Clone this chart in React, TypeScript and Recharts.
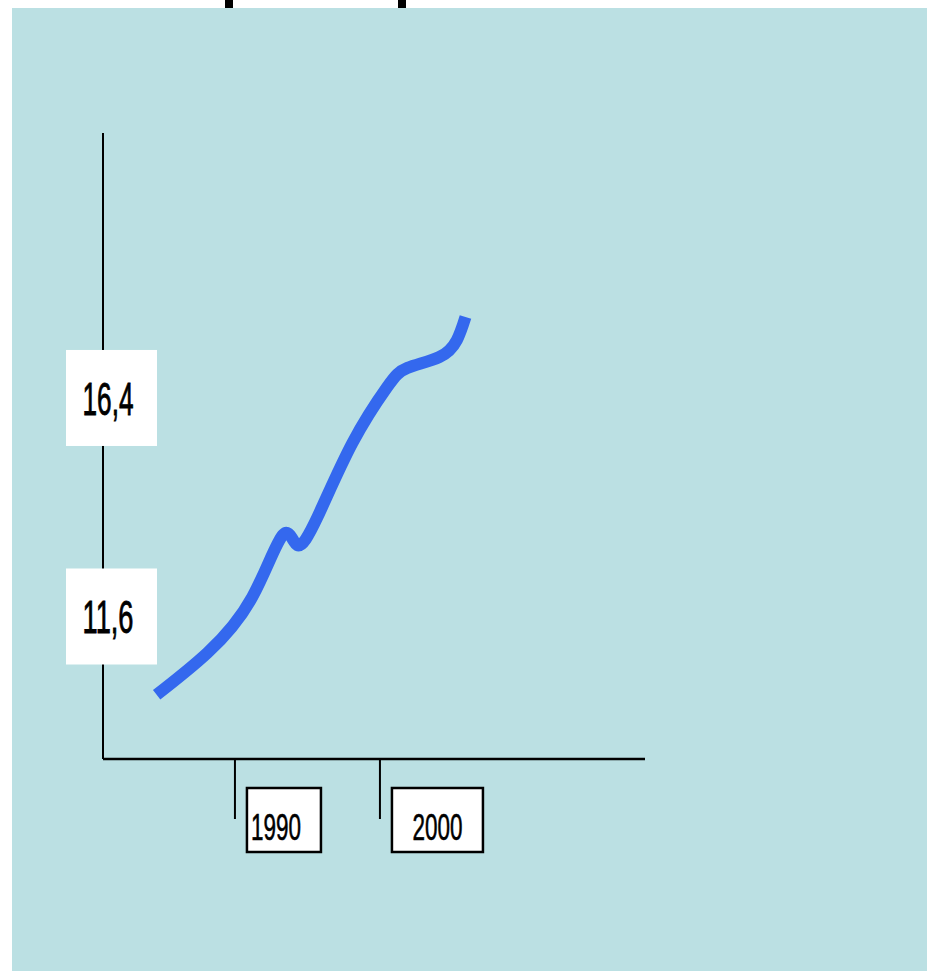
import React from 'react';
import { LineChart, Line, XAxis, YAxis } from 'recharts';

// values (year, value)
const years = [1984.6, 1988.1, 1991.2, 1993.3, 1994.3, 1995.7, 1998.1, 2000.5, 2001.9, 2004.1, 2005.3, 2005.9];
const values = [9.88, 10.8, 12.03, 13.39, 13.17, 13.79, 15.41, 16.64, 17.06, 17.3, 17.67, 18.18];

const xTicks = [1990, 2000];
const xTickLabels = ['1990', '2000'];
const yTicks = [11.6, 16.4];
const yTickLabels = ['11,6', '16,4'];

const data = years.map((year, i) => ({ year, value: values[i] }));

const LABEL_FONT = '"Liberation Sans Narrow", "Liberation Sans", Arial, sans-serif';
const xBoxWidth: Record<string, number> = { '1990': 74, '2000': 91 };

const XTick = (props: any) => {
    const { x, payload } = props;
    const y = 759; // axis baseline
    const idx = xTicks.indexOf(payload.value);
    const label = xTickLabels[idx] ?? String(payload.value);
    const w = xBoxWidth[label] ?? 80;
    const bx = x + 12;
    const alignLeft = label === '1990';
    return (
        <g>
            <line x1={x} y1={y} x2={x} y2={y + 60} stroke="#000" strokeWidth={2} />
            <rect x={bx} y={y + 29} width={w} height={64} fill="#fff" stroke="#000" strokeWidth={2.5} />
            <text
                x={alignLeft ? bx + 4 : bx + w / 2}
                y={y + 81}
                textAnchor={alignLeft ? 'start' : 'middle'}
                fontFamily={LABEL_FONT}
                fontSize={37}
                fill="#000"
                stroke="#000"
                strokeWidth={0.6}
                textLength={50}
                lengthAdjust="spacingAndGlyphs"
            >
                {label}
            </text>
        </g>
    );
};

const YTick = (props: any) => {
    const { y, payload } = props;
    const x = 102; // axis line
    const idx = yTicks.indexOf(payload.value);
    const label = yTickLabels[idx] ?? String(payload.value);
    return (
        <g>
            <rect x={x - 36} y={y - 48} width={91} height={96} fill="#fff" />
            <text
                x={x + 6}
                y={y + 17}
                textAnchor="middle"
                fontFamily={LABEL_FONT}
                fontSize={46}
                fill="#000"
                stroke="#000"
                strokeWidth={0.9}
                textLength={51}
                lengthAdjust="spacingAndGlyphs"
            >
                {label}
            </text>
        </g>
    );
};

export default function App() {
    return (
        <div style={{ position: 'absolute', left: 0, top: 0, width: 927, height: 971, background: '#fff', overflow: 'hidden' }}>
            {/* cut-off title fragments */}
            <div style={{ position: 'absolute', left: 225, top: 0, width: 8, height: 8, background: '#000' }} />
            <div style={{ position: 'absolute', left: 398, top: 0, width: 8, height: 8, background: '#000' }} />
            <div style={{ position: 'absolute', left: 12, top: 8, width: 915, height: 963, background: '#BBE0E3' }} />
            <div style={{ position: 'absolute', left: 0, top: 0 }}>
                <LineChart
                    width={927}
                    height={971}
                    data={data}
                    margin={{ top: 133, right: 282, bottom: 112, left: 43 }}
                >
                    <XAxis
                        dataKey="year"
                        type="number"
                        domain={[1980.9, 2018.28]}
                        ticks={xTicks}
                        height={100}
                        tickSize={0}
                        tickLine={false}
                        axisLine={{ stroke: '#000', strokeWidth: 2.5 }}
                        tick={XTick}
                        interval={0}
                    />
                    <YAxis
                        type="number"
                        domain={[8.47, 22.22]}
                        ticks={yTicks}
                        width={60}
                        tickSize={0}
                        tickLine={false}
                        axisLine={{ stroke: '#000', strokeWidth: 2 }}
                        tick={YTick}
                        interval={0}
                    />
                    <Line
                        type="natural"
                        dataKey="value"
                        stroke="#3468EE"
                        strokeWidth={12}
                        dot={false}
                        isAnimationActive={false}
                    />
                </LineChart>
            </div>
        </div>
    );
}
